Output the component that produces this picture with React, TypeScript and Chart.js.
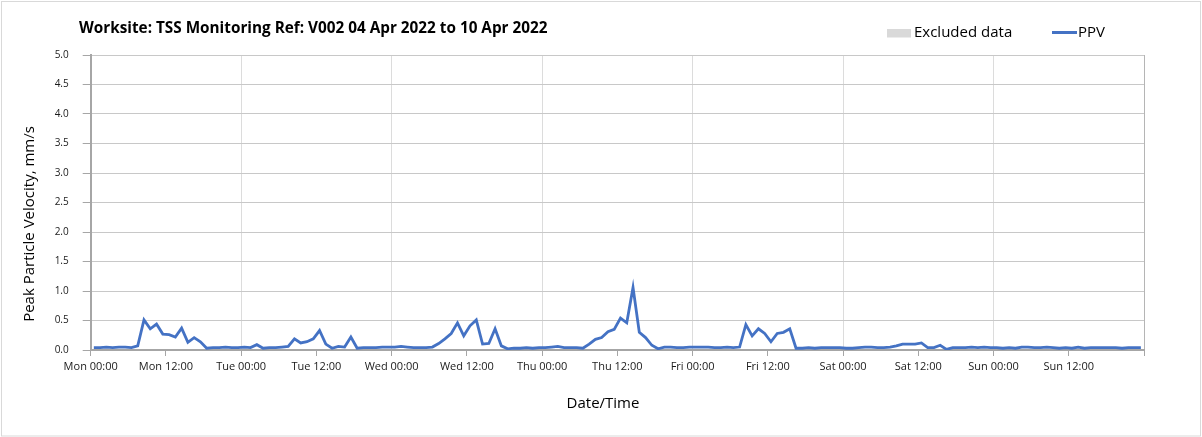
import React, { useEffect, useRef } from 'react';
import { Chart, registerables } from 'chart.js';

Chart.register(...registerables);

const chartTitle = 'Worksite: TSS Monitoring Ref: V002 04 Apr 2022 to 10 Apr 2022';
const legendLabels = ['Excluded data', 'PPV'];
const yAxisTitle = 'Peak Particle Velocity, mm/s';
const xAxisTitle = 'Date/Time';
const dayNames = ['Mon', 'Tue', 'Wed', 'Thu', 'Fri', 'Sat', 'Sun'];
const totalHours = 168;
const tickStepHours = 12;

// Hourly PPV values (mm/s), Mon 00:00 .. Sun 23:00
const ppvValues = [
  0.04, 0.04, 0.05, 0.04, 0.05, 0.05, 0.04, 0.07, 0.51, 0.36, 0.44, 0.27,
  0.26, 0.22, 0.37, 0.13, 0.21, 0.14, 0.03, 0.04, 0.04, 0.05, 0.04, 0.04,
  0.05, 0.04, 0.09, 0.03, 0.04, 0.04, 0.05, 0.06, 0.19, 0.12, 0.14, 0.19,
  0.33, 0.10, 0.03, 0.06, 0.05, 0.22, 0.03, 0.04, 0.04, 0.04, 0.05, 0.05,
  0.05, 0.06, 0.05, 0.04, 0.04, 0.04, 0.05, 0.11, 0.19, 0.28, 0.46, 0.24,
  0.41, 0.51, 0.10, 0.11, 0.36, 0.07, 0.02, 0.03, 0.03, 0.04, 0.03, 0.04,
  0.04, 0.05, 0.06, 0.04, 0.04, 0.04, 0.03, 0.10, 0.18, 0.21, 0.31, 0.35,
  0.54, 0.46, 1.06, 0.30, 0.21, 0.08, 0.02, 0.05, 0.05, 0.04, 0.04, 0.05,
  0.05, 0.05, 0.05, 0.04, 0.04, 0.05, 0.04, 0.05, 0.43, 0.24, 0.36, 0.28,
  0.14, 0.28, 0.30, 0.36, 0.03, 0.03, 0.04, 0.03, 0.04, 0.04, 0.04, 0.04,
  0.03, 0.03, 0.04, 0.05, 0.05, 0.04, 0.04, 0.05, 0.07, 0.10, 0.10, 0.10,
  0.12, 0.04, 0.04, 0.08, 0.01, 0.04, 0.04, 0.04, 0.05, 0.04, 0.05, 0.04,
  0.04, 0.03, 0.04, 0.03, 0.05, 0.05, 0.04, 0.04, 0.05, 0.04, 0.03, 0.04,
  0.03, 0.05, 0.03, 0.04, 0.04, 0.04, 0.04, 0.04, 0.03, 0.04, 0.04, 0.04,
];

const FONT = '"Open Sans", "Liberation Sans", sans-serif';
const LINE_BLUE = '#4472C4';

const decorPlugin = {
  id: 'decor',
  afterDraw(chart: any) {
    const ctx = chart.ctx as CanvasRenderingContext2D;
    ctx.save();
    // outer frame
    ctx.strokeStyle = '#d9d9d9';
    ctx.lineWidth = 1;
    ctx.strokeRect(1.5, 1.5, 1199, 434.5);

    ctx.fillStyle = '#000000';
    ctx.textBaseline = 'middle';
    ctx.textAlign = 'left';
    // title
    ctx.font = `bold 15.3px ${FONT}`;
    ctx.fillText(chartTitle, 79, 29);

    // legend
    ctx.font = `15px ${FONT}`;
    ctx.fillStyle = '#d9d9d9';
    ctx.fillRect(887, 29, 24, 8.5);
    ctx.fillStyle = '#000000';
    ctx.fillText(legendLabels[0], 914, 32.5);
    ctx.strokeStyle = LINE_BLUE;
    ctx.lineWidth = 3;
    ctx.beginPath();
    ctx.moveTo(1052, 32.5);
    ctx.lineTo(1077, 32.5);
    ctx.stroke();
    ctx.fillText(legendLabels[1], 1078, 32.5);

    // axis titles
    ctx.font = `15px ${FONT}`;
    ctx.textAlign = 'center';
    ctx.fillText(xAxisTitle, 603, 404);
    ctx.translate(30, 224);
    ctx.rotate(-Math.PI / 2);
    ctx.fillText(yAxisTitle, 0, 0);
    ctx.restore();
  },
};

export default function App() {
  const canvasRef = useRef<HTMLCanvasElement | null>(null);

  useEffect(() => {
    const canvas = canvasRef.current;
    if (!canvas) return;
    const points = ppvValues.map((v, i) => ({ x: i + 0.5, y: v }));
    const chart = new Chart(canvas, {
      type: 'line',
      data: {
        datasets: [
          {
            label: legendLabels[1],
            data: points,
            borderColor: LINE_BLUE,
            backgroundColor: LINE_BLUE,
            borderWidth: 2.8,
            pointRadius: 0,
            tension: 0,
            fill: false,
          },
        ],
      },
      options: {
        responsive: false,
        animation: false,
        devicePixelRatio: 1,
        layout: { padding: { top: 55, right: 58, left: 0, bottom: 0 } },
        plugins: {
          legend: { display: false },
          title: { display: false },
          tooltip: { enabled: false },
        },
        scales: {
          x: {
            type: 'linear',
            min: 0,
            max: totalHours,
            afterFit: (scale: any) => {
              scale.height = 87;
            },
            border: { color: '#a6a6a6', width: 2 },
            grid: {
              color: (c: any) => {
                const v = c.tick ? c.tick.value : 0;
                if (v === 0) return 'rgba(0,0,0,0)';
                if (v === totalHours) return '#b5b5b5';
                return v % 24 === 0 ? '#dcdcdc' : 'rgba(0,0,0,0)';
              },
              tickColor: '#a6a6a6',
              tickLength: 6,
              lineWidth: 1,
            },
            ticks: {
              stepSize: tickStepHours,
              autoSkip: false,
              maxRotation: 0,
              padding: 4,
              color: '#1a1a1a',
              font: { family: FONT, size: 11 },
              callback: (value: any) => {
                const v = Number(value);
                if (v >= totalHours) return '';
                const day = dayNames[Math.floor(v / 24)];
                const hr = String(v % 24).padStart(2, '0');
                return `${day} ${hr}:00`;
              },
            },
          },
          y: {
            type: 'linear',
            min: 0,
            max: 5,
            afterFit: (scale: any) => {
              scale.width = 90.7;
            },
            border: { color: '#a6a6a6', width: 2 },
            grid: {
              color: '#c8c8c8',
              tickColor: '#a6a6a6',
              tickLength: 8,
              lineWidth: 1,
            },
            ticks: {
              stepSize: 0.5,
              padding: 14,
              color: '#1a1a1a',
              font: { family: FONT, size: 10 },
              callback: (value: any) => Number(value).toFixed(1),
            },
          },
        },
      },
      plugins: [decorPlugin],
    });
    return () => chart.destroy();
  }, []);

  return (
    <div style={{ position: 'fixed', left: 0, top: 0, width: 1202, height: 437, background: '#ffffff' }}>
      <canvas ref={canvasRef} width={1202} height={437} style={{ display: 'block' }} />
    </div>
  );
}
